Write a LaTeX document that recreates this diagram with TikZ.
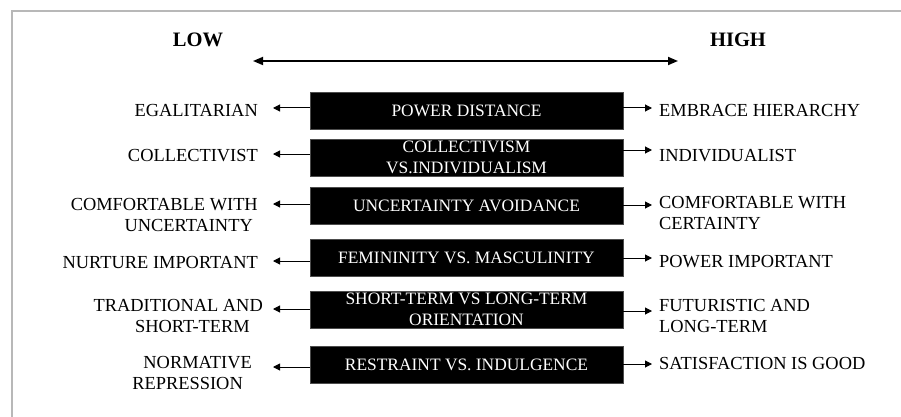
\documentclass[tikz,border=0pt]{standalone}
\usepackage{fontspec}
\setmainfont{Liberation Serif}
\usetikzlibrary{arrows.meta}
\tikzset{
  dimbox/.style={fill=black, draw=black!70, line width=0.4pt, text=white, minimum width=313pt, minimum height=37pt, inner sep=0pt, align=center, font=\fontsize{17.4}{21}\selectfont},
  lab/.style={inner sep=0pt, font=\fontsize{18.4}{21.5}\selectfont},
  head/.style={inner sep=0pt, font=\fontsize{20.5}{24}\selectfont\bfseries},
  arr/.style={-{Triangle[length=7pt,width=7pt]}, line width=1pt},
  axis/.style={{Triangle[length=10pt,width=8pt]}-{Triangle[length=10pt,width=8pt]}, line width=1.7pt},
  frameline/.style={draw=black!28, line width=1.5pt}
}
\begin{document}
\begin{tikzpicture}[x=1pt,y=-1pt]
\useasboundingbox (0,0) rectangle (901,417);
% frame
\coordinate (fa) at (12,417);
\coordinate (fb) at (12,11);
\coordinate (fc) at (901,11);
\draw[frameline] (fa) -- (fb) -- (fc);
% headings
\node[head] (low) at (198,40) {LOW};
\node[head] (high) at (738,40) {HIGH};
\coordinate (axl) at (253,61);
\coordinate (axr) at (678,61);
\draw[axis] (axl) -- (axr);
% boxes
\node[dimbox] (b1) at (466.5,110.5) {POWER DISTANCE};
\node[dimbox] (b2) at (466.5,157.5) {COLLECTIVISM\\VS.INDIVIDUALISM};
\node[dimbox] (b3) at (466.5,205.5) {UNCERTAINTY AVOIDANCE};
\node[dimbox] (b4) at (466.5,257.5) {FEMININITY VS. MASCULINITY};
\node[dimbox] (b5) at (466.5,309.5) {SHORT-TERM VS LONG-TERM\\ORIENTATION};
\node[dimbox] (b6) at (466.5,364.5) {RESTRAINT VS. INDULGENCE};
% left labels
\node[lab, anchor=east, align=right] (l1) at (258,110) {EGALITARIAN};
\node[lab, anchor=east, align=right] (l2) at (258,156) {COLLECTIVIST};
\node[lab, anchor=east, align=right] (l3) at (258,215) {COMFORTABLE WITH\\UNCERTAINTY\hspace*{5pt}};
\node[lab, anchor=east, align=right] (l4) at (258,262) {NURTURE IMPORTANT};
\node[lab, anchor=east, align=right] (l5) at (263,316) {TRADITIONAL AND\\SHORT-TERM\hspace*{13pt}};
\node[lab, anchor=east, align=right] (l6) at (252,373) {NORMATIVE\\REPRESSION\hspace*{9pt}};
% right labels
\node[lab, anchor=west, align=left] (r1) at (659,110) {EMBRACE HIERARCHY};
\node[lab, anchor=west, align=left] (r2) at (659,156) {INDIVIDUALIST};
\node[lab, anchor=west, align=left] (r3) at (659,213) {COMFORTABLE WITH\\CERTAINTY};
\node[lab, anchor=west, align=left] (r4) at (659,262) {POWER IMPORTANT};
\node[lab, anchor=west, align=left] (r5) at (659,316) {FUTURISTIC AND\\LONG-TERM};
\node[lab, anchor=west, align=left] (r6) at (659,363) {SATISFACTION IS GOOD};
% arrow tips
\coordinate (tl1) at (273,108);
\coordinate (tl2) at (273,154);
\coordinate (tl3) at (273,204);
\coordinate (tl4) at (273,261);
\coordinate (tl5) at (273,309);
\coordinate (tl6) at (273,367);
\coordinate (tr1) at (652,108);
\coordinate (tr2) at (652,150);
\coordinate (tr3) at (652,205);
\coordinate (tr4) at (652,258);
\coordinate (tr5) at (652,311);
\coordinate (tr6) at (652,364);
\foreach \i in {1,...,6}{
  \draw[arr] (b\i.west |- tl\i) -- (tl\i);
  \draw[arr] (b\i.east |- tr\i) -- (tr\i);
}
\end{tikzpicture}
\end{document}
